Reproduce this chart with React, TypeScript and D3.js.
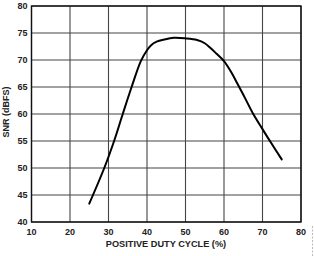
import React from "react";
import * as d3 from "d3";

// SNR versus positive duty cycle of the clock
const dutyCycle = [25, 28.9, 31.5, 33.7, 36, 38.4, 40, 41, 42.5, 44.5, 47, 50, 53, 55, 56.5, 58, 60, 62, 63.5, 65.5, 67.6, 70, 72.1, 75];
const snr = [43.4, 50, 55.1, 60, 65, 69.8, 71.8, 72.7, 73.4, 73.8, 74.1, 74.0, 73.7, 73.1, 72.2, 71.2, 69.8, 67.6, 65.6, 62.9, 60, 57.2, 54.8, 51.6];

const xTicks = [10, 20, 30, 40, 50, 60, 70, 80];
const yTicks = [40, 45, 50, 55, 60, 65, 70, 75, 80];

const W = 314;
const H = 256;
const left = 31.5;
const right = 301;
const top = 6;
const bottom = 222;

export default function App() {
  const x = d3.scaleLinear().domain([10, 80]).range([left, right]);
  const y = d3.scaleLinear().domain([40, 80]).range([bottom, top]);
  const pts: [number, number][] = dutyCycle.map((d, i) => [d, snr[i]]);
  const line = d3
    .line<[number, number]>()
    .x((d) => x(d[0]))
    .y((d) => y(d[1]))
    .curve(d3.curveCatmullRom.alpha(0.5));

  const font = "'Liberation Sans', Arial, sans-serif";

  return (
    <svg
      width={W}
      height={H}
      style={{ position: "absolute", left: 0, top: 0, background: "#fff" }}
    >
      {xTicks.map((t) => (
        <line key={"gx" + t} x1={x(t)} x2={x(t)} y1={top} y2={bottom} stroke="#444" strokeWidth={1.1} />
      ))}
      {yTicks.map((t) => (
        <line key={"gy" + t} x1={left} x2={right} y1={y(t)} y2={y(t)} stroke="#444" strokeWidth={1.1} />
      ))}
      <rect x={left} y={top} width={right - left} height={bottom - top} fill="none" stroke="#111" strokeWidth={1.4} />
      <path d={line(pts) ?? ""} fill="none" stroke="#000" strokeWidth={2} strokeLinejoin="round" strokeLinecap="round" />

      {yTicks.map((t) => (
        <text
          key={"ly" + t}
          x={left - 4}
          y={y(t) + 3.2}
          textAnchor="end"
          fontFamily={font}
          fontWeight="bold"
          fontSize={9}
          fill="#222"
        >
          {t}
        </text>
      ))}
      {xTicks.map((t) => (
        <text
          key={"lx" + t}
          x={x(t)}
          y={bottom + 13}
          textAnchor="middle"
          fontFamily={font}
          fontWeight="bold"
          fontSize={9}
          fill="#222"
        >
          {t}
        </text>
      ))}
      <text
        x={166}
        y={247}
        textAnchor="middle"
        fontFamily={font}
        fontWeight="bold"
        fontSize={9.2}
        fill="#222"
      >
        POSITIVE DUTY CYCLE (%)
      </text>
      <text
        transform={`translate(9, 112) rotate(-90)`}
        textAnchor="middle"
        fontFamily={font}
        fontWeight="bold"
        fontSize={9}
        fill="#222"
      >
        SNR (dBFS)
      </text>
      <line x1={312.5} x2={312.5} y1={226} y2={256} stroke="#aaa" strokeWidth={0.8} strokeDasharray="2,1.5" />
    </svg>
  );
}
